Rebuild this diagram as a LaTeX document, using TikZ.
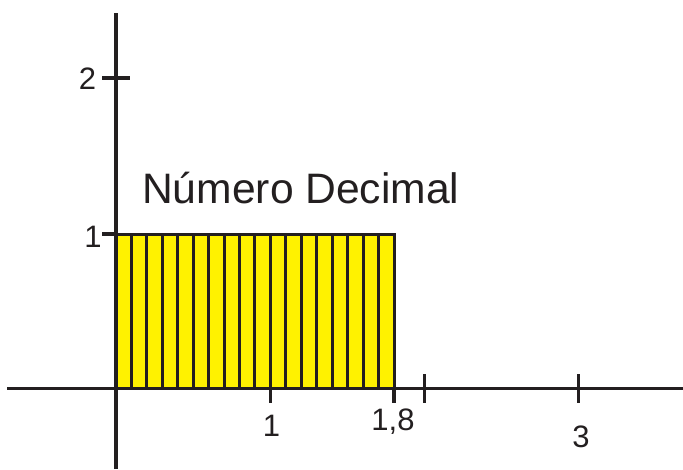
\documentclass[tikz,border=0pt]{standalone}
\usepackage{fontspec}
\setmainfont{Liberation Sans}
\definecolor{ink}{HTML}{231F20}
\definecolor{fillyel}{HTML}{FFF200}
\tikzset{
  axisline/.style={draw=ink, line width=3.2pt},
  tickline/.style={draw=ink, line width=3.2pt},
  stripe/.style={draw=ink, line width=3pt},
  numlabel/.style={inner sep=0pt, anchor=base, text=ink, font=\fontsize{31}{36}\selectfont},
  titlelabel/.style={inner sep=0pt, anchor=base west, text=ink, font=\fontsize{42.6}{50}\selectfont},
}
\begin{document}
\begin{tikzpicture}[x=1pt,y=-1pt]
\useasboundingbox (0,0) rectangle (683,469);
% filled rectangle
\fill[fillyel] (116,234) rectangle (394,388.5);
\foreach \k in {1,...,17} {
  \draw[stripe] ({116+15.444*\k},234) -- ({116+15.444*\k},388.5);
}
\draw[stripe] (116,234) rectangle (394,388.5);
% axes
\coordinate (yb) at (116,469);
\coordinate (yt) at (116,13);
\coordinate (xl) at (7,388.5);
\coordinate (xr) at (683,388.5);
\draw[axisline] (yb) -- (yt);
\draw[axisline] (xl) -- (xr);
% ticks
\draw[tickline] (102,78) -- (130,78);
\draw[tickline] (102,234) -- (116,234);
\draw[tickline] (270.4,388.5) -- (270.4,403);
\draw[tickline] (394,388.5) -- (394,403);
\draw[tickline] (424.5,374) -- (424.5,403);
\draw[tickline] (578.5,374) -- (578.5,403);
% labels
\node[numlabel] (l2) at (87.5,89) {2};
\node[numlabel] (l1y) at (93,247) {1};
\node[numlabel] (l1x) at (271.5,436) {1};
\node[numlabel] (l18) at (393,430) {1,8};
\node[numlabel] (l3) at (581,447) {3};
\node[titlelabel] (title) at (142,203) {Número Decimal};
\end{tikzpicture}
\end{document}
